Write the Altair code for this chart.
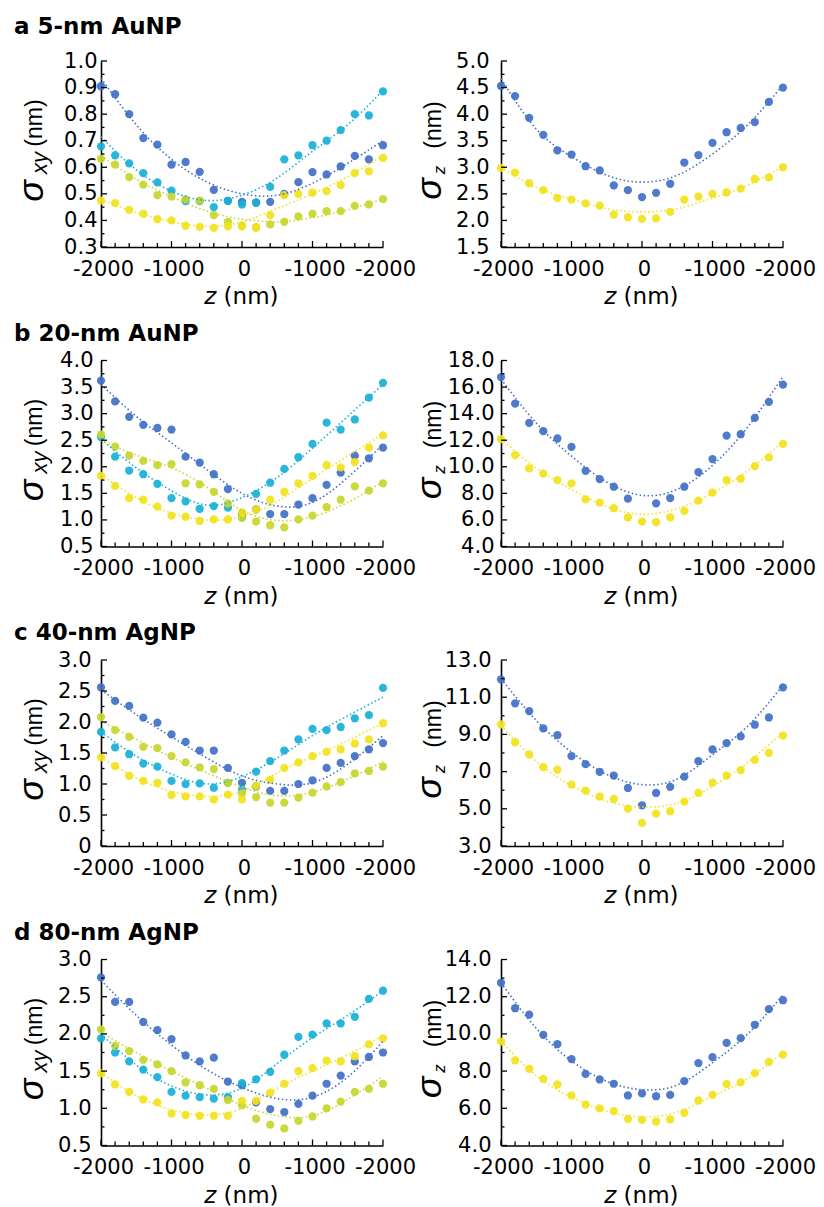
import json
import altair as alt
import pandas as pd

W, H = 282, 186

Z = [-2000, -1800, -1600, -1400, -1200, -1000, -800, -600, -400, -200, 0,
     200, 400, 600, 800, 1000, 1200, 1400, 1600, 1800, 2000]
Z_FIT = [-2000, -1500, -1000, -500, 0, 500, 1000, 1500, 2000]

X_TICK_VALUES = [-2000, -1000, 0, 1000, 2000]
X_TICK_LABELS = ["-2000", "-1000", "0", "-1000", "-2000"]
X_MINOR = [v for v in Z if v not in X_TICK_VALUES]

XY_SERIES = ["blue", "cyan", "ygreen", "yellow"]
XY_COLORS = ["#4070C6", "#18B0D8", "#C8D62C", "#F2E21A"]
Z_SERIES = ["blue", "yellow"]
Z_COLORS = ["#5858C6", "#F2E21A"]

# ---------------- a 5-nm AuNP ----------------
A_XY_BLUE = [0.905, 0.875, 0.80, 0.71, 0.685, 0.61, 0.62, 0.583, 0.515, 0.474, 0.47,
             0.468, 0.47, 0.50, 0.544, 0.582, 0.573, 0.603, 0.643, 0.63, 0.683]
A_XY_CYAN = [0.679, 0.645, 0.615, 0.578, 0.543, 0.512, 0.473, 0.473, 0.45, 0.474, 0.46,
             0.466, 0.526, 0.63, 0.645, 0.683, 0.70, 0.74, 0.80, 0.795, 0.886]
A_XY_YGREEN = [0.632, 0.61, 0.563, 0.535, 0.495, 0.49, 0.48, 0.475, 0.42, 0.395, 0.38,
               0.375, 0.385, 0.395, 0.415, 0.425, 0.435, 0.435, 0.455, 0.46, 0.48]
A_XY_YELLOW = [0.475, 0.465, 0.44, 0.425, 0.405, 0.40, 0.38, 0.376, 0.372, 0.378, 0.378,
               0.372, 0.42, 0.495, 0.50, 0.505, 0.51, 0.533, 0.578, 0.585, 0.635]
A_XY_BLUE_FIT = [0.935, 0.76, 0.63, 0.545, 0.50, 0.495, 0.54, 0.615, 0.70]
A_XY_CYAN_FIT = [0.715, 0.59, 0.51, 0.475, 0.495, 0.56, 0.66, 0.76, 0.89]
A_XY_YGREEN_FIT = [0.645, 0.555, 0.49, 0.435, 0.405, 0.395, 0.41, 0.44, 0.48]
A_XY_YELLOW_FIT = [0.478, 0.43, 0.395, 0.378, 0.395, 0.445, 0.50, 0.565, 0.645]

A_Z_BLUE = [4.53, 4.34, 3.93, 3.61, 3.32, 3.24, 3.02, 2.94, 2.66, 2.57, 2.44,
            2.52, 2.69, 3.09, 3.23, 3.46, 3.66, 3.74, 3.85, 4.23, 4.50]
A_Z_YELLOW = [2.99, 2.90, 2.70, 2.57, 2.42, 2.39, 2.32, 2.28, 2.11, 2.06, 2.03,
              2.04, 2.16, 2.39, 2.45, 2.50, 2.53, 2.60, 2.78, 2.81, 3.00]
A_Z_BLUE_FIT = [4.67, 3.72, 3.20, 2.85, 2.72, 2.85, 3.25, 3.80, 4.55]
A_Z_YELLOW_FIT = [3.00, 2.62, 2.40, 2.22, 2.16, 2.22, 2.42, 2.66, 3.02]

# ---------------- b 20-nm AuNP ----------------
B_XY_BLUE = [3.62, 3.23, 2.94, 2.79, 2.73, 2.70, 2.19, 2.08, 1.86, 1.58, 1.12,
             1.20, 1.11, 1.11, 1.29, 1.41, 1.66, 1.89, 2.21, 2.16, 2.36]
B_XY_CYAN = [2.56, 2.19, 1.93, 1.86, 1.68, 1.41, 1.35, 1.21, 1.26, 1.23, 1.05,
             1.49, 1.70, 1.96, 2.18, 2.43, 2.83, 2.70, 2.89, 3.30, 3.58]
B_XY_YGREEN = [2.61, 2.38, 2.21, 2.11, 2.03, 2.05, 1.69, 1.67, 1.53, 1.31, 1.04,
               0.97, 0.90, 0.86, 1.01, 1.08, 1.24, 1.38, 1.63, 1.55, 1.69]
B_XY_YELLOW = [1.83, 1.64, 1.41, 1.38, 1.25, 1.08, 1.06, 0.98, 1.01, 1.01, 1.14,
               1.20, 1.38, 1.53, 1.69, 1.83, 2.03, 1.99, 2.09, 2.36, 2.59]
B_XY_BLUE_FIT = [3.55, 2.95, 2.45, 1.95, 1.50, 1.26, 1.33, 1.80, 2.42]
B_XY_CYAN_FIT = [2.52, 1.98, 1.55, 1.28, 1.42, 1.80, 2.35, 2.95, 3.55]
B_XY_YGREEN_FIT = [2.50, 2.22, 1.98, 1.62, 1.18, 0.99, 1.06, 1.33, 1.72]
B_XY_YELLOW_FIT = [1.85, 1.42, 1.13, 1.00, 1.06, 1.35, 1.78, 2.20, 2.62]

B_Z_BLUE = [16.75, 14.75, 13.3, 12.68, 12.13, 11.5, 9.7, 9.08, 8.5, 7.6, None,
            7.25, 7.65, 8.5, 9.6, 10.58, 12.35, 12.45, 13.68, 14.88, 16.18]
B_Z_YELLOW = [12.08, 10.88, 9.88, 9.48, 9.0, 8.75, 7.55, 7.3, 6.88, 6.2, 5.88,
              5.83, 6.2, 6.68, 7.45, 8.05, 9.0, 9.1, 10.05, 10.7, 11.73]
B_Z_BLUE_FIT = [16.6, 13.3, 10.8, 8.85, 7.85, 8.3, 10.1, 13.0, 16.8]
B_Z_YELLOW_FIT = [12.1, 9.9, 8.3, 7.0, 6.42, 6.85, 8.0, 9.7, 11.9]

# ---------------- c 40-nm AgNP ----------------
C_XY_BLUE = [2.56, 2.34, 2.26, 2.07, 1.99, 1.80, 1.68, 1.54, 1.54, 1.26, 1.02,
             0.96, 0.89, 0.89, 1.00, 1.06, 1.26, 1.34, 1.45, 1.56, 1.66]
C_XY_CYAN = [1.84, 1.59, 1.48, 1.33, 1.28, 1.05, 1.00, 1.01, 0.94, 1.02, 0.91,
             1.20, 1.37, 1.54, 1.72, 1.89, 1.87, 1.92, 2.06, 2.11, 2.55]
C_XY_YGREEN = [2.08, 1.87, 1.76, 1.60, 1.58, 1.45, 1.35, 1.27, 1.24, 1.02, 0.85,
               0.79, 0.70, 0.70, 0.78, 0.86, 0.96, 1.03, 1.17, 1.21, 1.28]
C_XY_YELLOW = [1.43, 1.29, 1.13, 1.05, 1.02, 0.82, 0.80, 0.80, 0.75, 0.83, 0.75,
               0.97, 1.07, 1.26, 1.35, 1.45, 1.52, 1.56, 1.65, 1.72, 1.98]
C_XY_BLUE_FIT = [2.52, 2.12, 1.76, 1.42, 1.13, 1.00, 1.02, 1.32, 1.78]
C_XY_CYAN_FIT = [1.84, 1.45, 1.16, 1.00, 1.12, 1.42, 1.78, 2.10, 2.40]
C_XY_YGREEN_FIT = [2.02, 1.72, 1.43, 1.18, 0.95, 0.81, 0.87, 1.08, 1.36]
C_XY_YELLOW_FIT = [1.43, 1.10, 0.88, 0.80, 0.88, 1.18, 1.44, 1.70, 1.98]

C_Z_BLUE = [11.96, 10.67, 10.25, 9.32, 8.96, 7.83, 7.40, 6.99, 6.79, 6.12, 5.19,
            5.85, 6.18, 6.73, 7.56, 8.19, 8.53, 8.89, 9.52, 9.91, 11.53]
C_Z_YELLOW = [9.54, 8.58, 7.92, 7.24, 7.11, 6.30, 5.98, 5.66, 5.53, 5.01, 4.24,
              4.74, 4.87, 5.39, 5.85, 6.41, 6.79, 7.08, 7.63, 8.01, 8.94]
C_Z_BLUE_FIT = [12.0, 9.75, 8.05, 6.85, 6.3, 6.6, 7.9, 9.45, 11.65]
C_Z_YELLOW_FIT = [9.5, 7.55, 6.25, 5.4, 5.1, 5.3, 6.2, 7.5, 9.1]

# ---------------- d 80-nm AgNP ----------------
D_XY_BLUE = [2.76, 2.43, 2.43, 2.16, 2.05, 1.93, 1.71, 1.63, 1.68, 1.36, 1.31,
             1.08, 0.99, 0.95, 1.06, 1.17, 1.33, 1.44, 1.63, 1.69, 1.75]
D_XY_CYAN = [1.94, 1.75, 1.63, 1.52, 1.42, 1.22, 1.17, 1.15, 1.13, 1.15, 1.34,
             1.39, 1.49, 1.72, 1.96, 1.99, 2.14, 2.14, 2.23, 2.47, 2.58]
D_XY_YGREEN = [2.06, 1.84, 1.77, 1.65, 1.59, 1.50, 1.35, 1.31, 1.26, 1.11, 1.04,
               0.86, 0.78, 0.73, 0.83, 0.89, 1.00, 1.09, 1.22, 1.26, 1.33]
D_XY_YELLOW = [1.47, 1.32, 1.22, 1.12, 1.08, 0.93, 0.91, 0.90, 0.90, 0.90, 1.10,
               1.10, 1.21, 1.33, 1.50, 1.54, 1.64, 1.63, 1.70, 1.86, 1.94]
D_XY_BLUE_FIT = [2.72, 2.25, 1.85, 1.52, 1.28, 1.13, 1.15, 1.42, 1.90]
D_XY_CYAN_FIT = [2.00, 1.58, 1.30, 1.18, 1.27, 1.60, 1.95, 2.25, 2.58]
D_XY_YGREEN_FIT = [2.02, 1.75, 1.50, 1.27, 1.04, 0.90, 0.90, 1.12, 1.43]
D_XY_YELLOW_FIT = [1.48, 1.17, 0.98, 0.91, 1.00, 1.27, 1.50, 1.72, 1.98]

D_Z_BLUE = [12.75, 11.38, 11.04, 9.95, 9.45, 8.64, 7.85, 7.55, 7.32, 6.69, 6.80,
            6.65, 6.72, 7.46, 8.43, 8.75, 9.52, 9.77, 10.49, 11.33, 11.81]
D_Z_YELLOW = [9.59, 8.57, 8.12, 7.58, 7.28, 6.69, 6.20, 6.00, 5.85, 5.43, 5.38,
              5.29, 5.40, 5.76, 6.42, 6.72, 7.30, 7.40, 7.89, 8.50, 8.89]
D_Z_BLUE_FIT = [12.75, 10.3, 8.55, 7.45, 7.0, 7.25, 8.45, 10.0, 12.1]
D_Z_YELLOW_FIT = [9.6, 7.75, 6.6, 5.85, 5.55, 5.8, 6.65, 7.6, 9.0]

# y axes
A_XY_DOMAIN, A_XY_MAJOR = [0.3, 1.0], [0.3, 0.4, 0.5, 0.6, 0.7, 0.8, 0.9, 1.0]
A_Z_DOMAIN, A_Z_MAJOR = [1.5, 5.0], [1.5, 2.0, 2.5, 3.0, 3.5, 4.0, 4.5, 5.0]
B_XY_DOMAIN, B_XY_MAJOR = [0.5, 4.0], [0.5, 1.0, 1.5, 2.0, 2.5, 3.0, 3.5, 4.0]
B_Z_DOMAIN, B_Z_MAJOR = [4.0, 18.0], [4.0, 6.0, 8.0, 10.0, 12.0, 14.0, 16.0, 18.0]
C_XY_DOMAIN, C_XY_MAJOR = [0.0, 3.0], [0.0, 0.5, 1.0, 1.5, 2.0, 2.5, 3.0]
C_Z_DOMAIN, C_Z_MAJOR = [3.0, 13.0], [3.0, 5.0, 7.0, 9.0, 11.0, 13.0]
D_XY_DOMAIN, D_XY_MAJOR = [0.5, 3.0], [0.5, 1.0, 1.5, 2.0, 2.5, 3.0]
D_Z_DOMAIN, D_Z_MAJOR = [4.0, 14.0], [4.0, 6.0, 8.0, 10.0, 12.0, 14.0]

ROW_TITLES = ["a 5-nm AuNP", "b 20-nm AuNP", "c 40-nm AgNP", "d 80-nm AgNP"]

LABEL_FONT = "DejaVu Sans"
ROT_FONT = "Liberation Sans"

X_LABEL_EXPR = f"{json.dumps(X_TICK_LABELS)}[indexof({json.dumps(X_TICK_VALUES)}, datum.value)]"


def text_layer(txt, x, y, size, font, style="normal", weight="normal", angle=0, align="center"):
    return alt.Chart(pd.DataFrame({"t": [txt]})).mark_text(
        font=font, fontSize=size, fontStyle=style, fontWeight=weight, angle=angle,
        align=align, baseline="alphabetic", color="black"
    ).encode(text="t:N", x=alt.value(x), y=alt.value(y))


def panel(names, colors, pts_arrays, fit_arrays, domain, majors, label_pad, kind, title=None, title_y=-20):
    prow, frow = [], []
    for k, (nm, arr) in enumerate(zip(names, pts_arrays)):
        for z, v in zip(Z, arr):
            if v is not None:
                prow.append({"z": z, "v": v, "s": nm, "k": k})
    for nm, arr in zip(names, fit_arrays):
        for z, v in zip(Z_FIT, arr):
            frow.append({"z": z, "v": v, "s": nm})
    pts = pd.DataFrame(prow)
    fits = pd.DataFrame(frow)

    xs = alt.Scale(domain=[-2000, 2000], nice=False, zero=False)
    ys = alt.Scale(domain=domain, nice=False, zero=False)
    color = alt.Color("s:N", scale=alt.Scale(domain=names, range=colors), legend=None)

    x_axis = alt.Axis(values=X_TICK_VALUES, labelExpr=X_LABEL_EXPR, ticks=False, grid=False,
                      title=None, labelFont=LABEL_FONT, labelFontSize=21, labelColor="black",
                      labelPadding=11, labelOffset=2, labelFlush=False, labelOverlap=False,
                      domainColor="black", domainWidth=1.6)
    y_axis = alt.Axis(values=majors, labelExpr="datum.value == 0 ? '0' : format(datum.value, '.1f')",
                      ticks=False, grid=False, title=None, labelFont=LABEL_FONT, labelFontSize=21,
                      labelColor="black", labelPadding=label_pad, labelFlush=False,
                      labelOverlap=False, domainColor="black", domainWidth=1.6)
    x_enc = alt.X("z:Q", scale=xs, axis=x_axis)
    y_enc = alt.Y("v:Q", scale=ys, axis=y_axis)

    minors = [(a + b) / 2 for a, b in zip(majors, majors[1:])]

    x_major = alt.Chart(pd.DataFrame({"z": X_TICK_VALUES})).mark_rule(color="black", strokeWidth=1.3).encode(
        x=x_enc, y=alt.value(H), y2=alt.value(H - 6))
    x_minor = alt.Chart(pd.DataFrame({"z": X_MINOR})).mark_rule(color="black", strokeWidth=1.3).encode(
        x=x_enc, y=alt.value(H), y2=alt.value(H - 4))
    y_major = alt.Chart(pd.DataFrame({"v": majors})).mark_rule(color="black", strokeWidth=1.3).encode(
        y=y_enc, x=alt.value(0), x2=alt.value(6))
    y_minor = alt.Chart(pd.DataFrame({"v": minors})).mark_rule(color="black", strokeWidth=1.3).encode(
        y=y_enc, x=alt.value(0), x2=alt.value(3.5))

    lines = alt.Chart(fits).mark_line(strokeDash=[1.5, 2.5], strokeWidth=1.6, interpolate="natural").encode(
        x=x_enc, y=y_enc, color=color, detail="s:N")
    dots = alt.Chart(pts).mark_circle(size=68, opacity=0.92).encode(
        x=x_enc, y=y_enc, color=color, order=alt.Order("k:Q"))

    layers = [dots, lines, x_minor, x_major, y_minor, y_major]

    if kind == "xy":
        layers += [
            text_layer("σ", -58.5, 130, 36, ROT_FONT, style="italic", angle=270),
            text_layer("xy", -54, 102, 22, ROT_FONT, style="italic", angle=270),
            text_layer("(nm)", -59, 62, 23, ROT_FONT, angle=270),
        ]
    else:
        layers += [
            text_layer("σ", -60, 128, 36, ROT_FONT, style="italic", angle=270),
            text_layer("z", -56, 109, 17, ROT_FONT, style="italic", angle=270),
            text_layer("(nm)", -60, 64, 23, ROT_FONT, angle=270),
        ]
    layers += [
        text_layer("z", 115.3, H + 57, 23, LABEL_FONT, style="italic", align="right"),
        text_layer("(nm)", 122.6, H + 57, 23, LABEL_FONT, align="left"),
    ]
    if title is not None:
        layers.append(text_layer(title, -87, title_y, 23, LABEL_FONT, weight="bold", align="left"))

    return alt.layer(*layers).properties(width=W, height=H)


rows_spec = [
    (ROW_TITLES[0], -27,
     [A_XY_BLUE, A_XY_CYAN, A_XY_YGREEN, A_XY_YELLOW],
     [A_XY_BLUE_FIT, A_XY_CYAN_FIT, A_XY_YGREEN_FIT, A_XY_YELLOW_FIT], A_XY_DOMAIN, A_XY_MAJOR, 4,
     [A_Z_BLUE, A_Z_YELLOW], [A_Z_BLUE_FIT, A_Z_YELLOW_FIT], A_Z_DOMAIN, A_Z_MAJOR, 12),
    (ROW_TITLES[1], -20,
     [B_XY_BLUE, B_XY_CYAN, B_XY_YGREEN, B_XY_YELLOW],
     [B_XY_BLUE_FIT, B_XY_CYAN_FIT, B_XY_YGREEN_FIT, B_XY_YELLOW_FIT], B_XY_DOMAIN, B_XY_MAJOR, 8,
     [B_Z_BLUE, B_Z_YELLOW], [B_Z_BLUE_FIT, B_Z_YELLOW_FIT], B_Z_DOMAIN, B_Z_MAJOR, 7),
    (ROW_TITLES[2], -20,
     [C_XY_BLUE, C_XY_CYAN, C_XY_YGREEN, C_XY_YELLOW],
     [C_XY_BLUE_FIT, C_XY_CYAN_FIT, C_XY_YGREEN_FIT, C_XY_YELLOW_FIT], C_XY_DOMAIN, C_XY_MAJOR, 10,
     [C_Z_BLUE, C_Z_YELLOW], [C_Z_BLUE_FIT, C_Z_YELLOW_FIT], C_Z_DOMAIN, C_Z_MAJOR, 10),
    (ROW_TITLES[3], -20,
     [D_XY_BLUE, D_XY_CYAN, D_XY_YGREEN, D_XY_YELLOW],
     [D_XY_BLUE_FIT, D_XY_CYAN_FIT, D_XY_YGREEN_FIT, D_XY_YELLOW_FIT], D_XY_DOMAIN, D_XY_MAJOR, 10,
     [D_Z_BLUE, D_Z_YELLOW], [D_Z_BLUE_FIT, D_Z_YELLOW_FIT], D_Z_DOMAIN, D_Z_MAJOR, 10),
]

panels = []
for (title, ty, xy_pts, xy_fit, xy_dom, xy_maj, xy_pad, z_pts, z_fit, z_dom, z_maj, z_pad) in rows_spec:
    panels.append(panel(XY_SERIES, XY_COLORS, xy_pts, xy_fit, xy_dom, xy_maj, xy_pad, "xy",
                        title=title, title_y=ty))
    panels.append(panel(Z_SERIES, Z_COLORS, z_pts, z_fit, z_dom, z_maj, z_pad, "z"))

chart = alt.concat(*panels, columns=2, spacing={"row": 113.5, "column": 118}, bounds="flush").configure_view(
    strokeWidth=0).properties(padding={"left": 13, "top": 16, "right": 5, "bottom": 5})

chart.save("out.html", embed_options={"renderer": "svg", "actions": False})
